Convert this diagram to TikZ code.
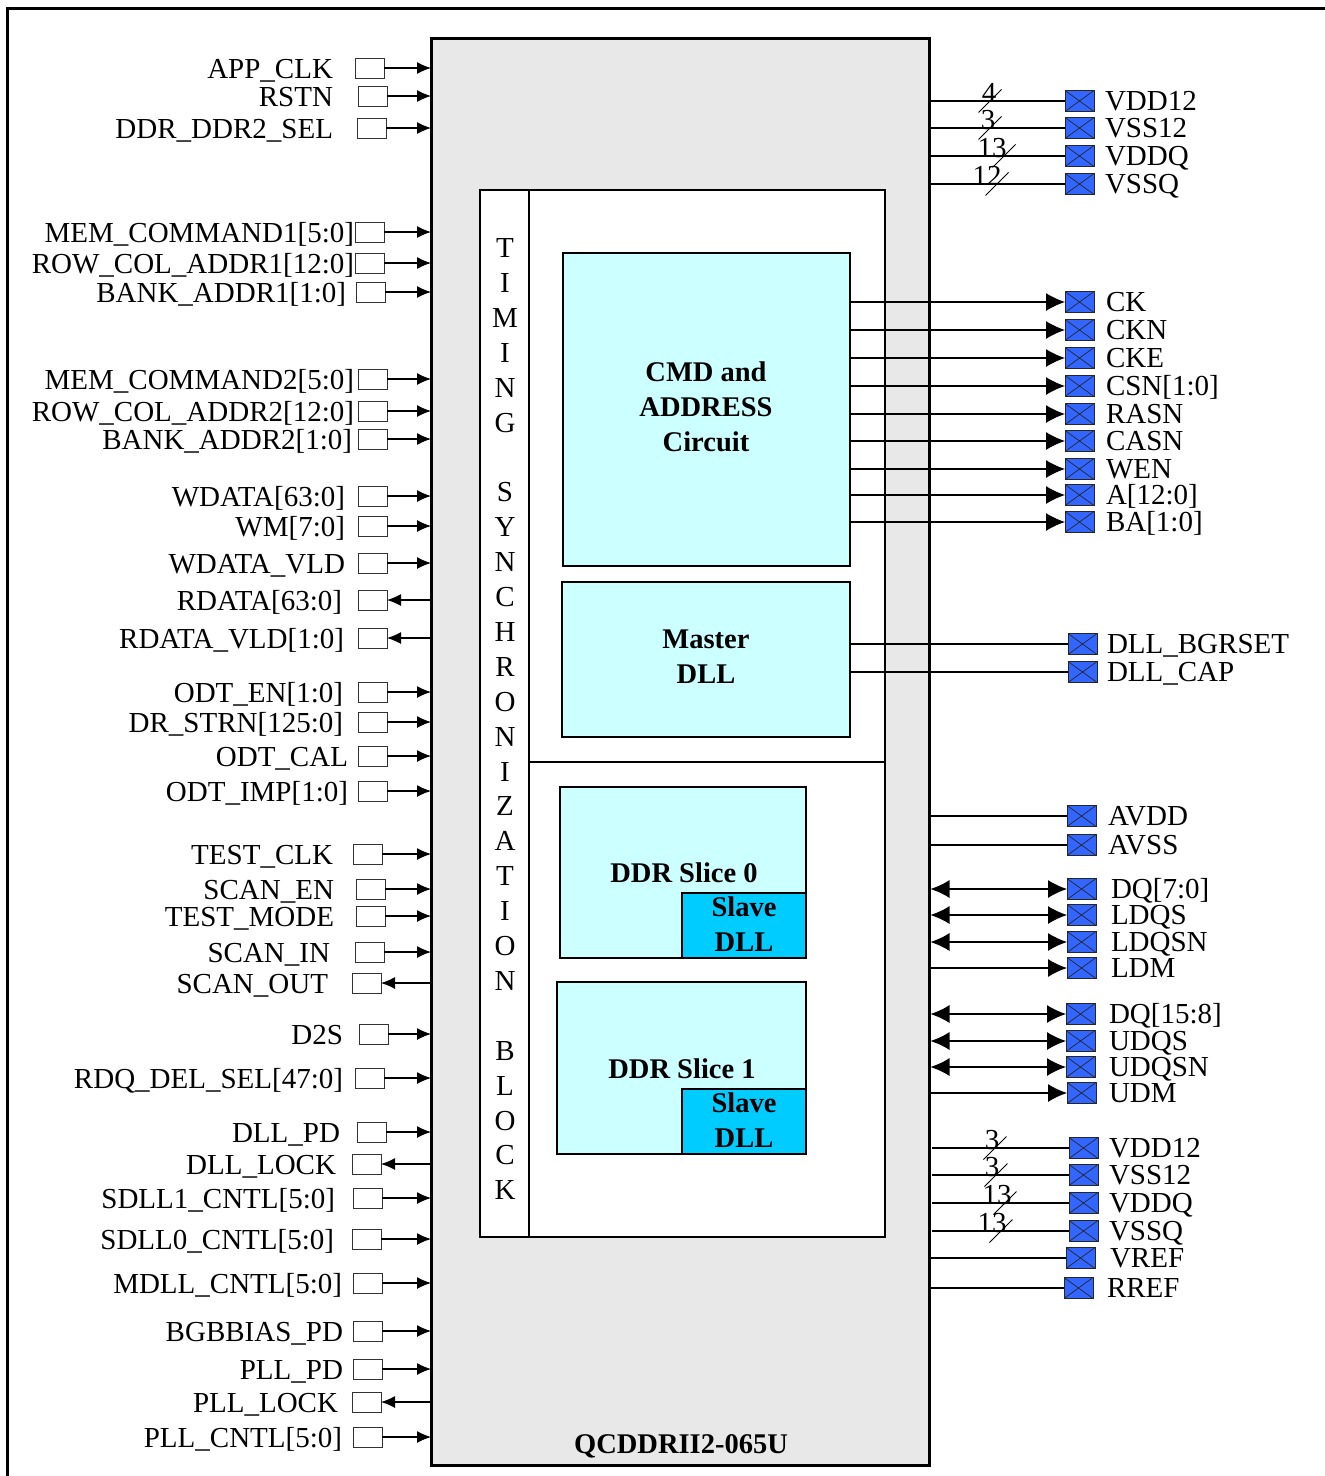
\documentclass[tikz,border=0pt]{standalone}
\usepackage{fontspec}
\setmainfont{Liberation Serif}
\usetikzlibrary{arrows.meta}
\definecolor{chipgray}{HTML}{E8E8E8}
\definecolor{lightcyan}{HTML}{CCFFFF}
\definecolor{slavecyan}{HTML}{00CCFF}
\definecolor{padblue}{HTML}{3366FF}
\begin{document}
\begin{tikzpicture}[x=1pt,y=-1pt,
  every node/.style={inner sep=0pt, outer sep=0pt},
  lbl/.style={font=\fontsize{29}{35}\selectfont},
  btxt/.style={font=\fontsize{28.5}{35}\selectfont\bfseries, align=center},
  blk/.style={draw=black, line width=2.6pt, anchor=north west},
  wire/.style={line width=1.1pt, draw=black},
  slash/.style={line width=0.8pt, draw=black},
  inarrow/.style={wire, -{Latex[length=14pt,width=12pt]}},
  outarrow/.style={wire, {Latex[length=14pt,width=12pt]}-},
  padarrow/.style={wire, -{Latex[length=19pt,width=18pt]}},
  biarrow/.style={wire, {Latex[length=19pt,width=18pt]}-{Latex[length=19pt,width=18pt]}},
  lpad/.style={draw=black!80, line width=0.9pt, fill=white, minimum width=29pt, minimum height=20pt, anchor=west},
  rpad/.style={draw=black!85, line width=0.8pt, fill=padblue, minimum width=29pt, minimum height=21pt, anchor=west,
    path picture={\draw[line width=0.7pt] (path picture bounding box.north west) -- (path picture bounding box.south east)
      (path picture bounding box.south west) -- (path picture bounding box.north east);}}
]
\useasboundingbox (0,0) rectangle (1325,1476);
\clip (0,0) rectangle (1325,1476);
\fill[white] (0,0) rectangle (1325,1476);
% outer frame
\draw[line width=3pt] (7,8) rectangle (1345,1495);

% main chip
\node[blk, fill=chipgray, line width=3pt, minimum width=498pt, minimum height=1427pt] (main) at (431,38) {};
\node[blk, fill=white, minimum width=405pt, minimum height=1047pt] (inner) at (480,190) {};
\node[blk, minimum width=49pt, minimum height=1047pt] (tsb) at (480,190) {};
\coordinate (divl) at (529,762);
\draw[line width=2.6pt] (divl) -- (divl -| inner.east);

\node[blk, fill=lightcyan, minimum width=287pt, minimum height=313pt] (cmd) at (563,253) {};
\node[btxt] (cmdt) at (706,407) {CMD and\\ADDRESS\\Circuit};
\node[blk, fill=lightcyan, minimum width=288pt, minimum height=155pt] (mdll) at (562,582) {};
\node[btxt] (mdllt) at (706,657) {Master\\DLL};
\node[blk, fill=lightcyan, minimum width=246pt, minimum height=171pt] (s0) at (560,787) {};
\node[btxt, anchor=base] (s0t) at (684,882) {DDR Slice 0};
\node[blk, fill=slavecyan, minimum width=124pt, minimum height=65pt] (sd0) at (682,893) {};
\node[btxt] (sd0t) at (744,924) {Slave\\DLL};
\node[blk, fill=lightcyan, minimum width=249pt, minimum height=172pt] (s1) at (557,982) {};
\node[btxt, anchor=base] (s1t) at (682,1078) {DDR Slice 1};
\node[blk, fill=slavecyan, minimum width=124pt, minimum height=65pt] (sd1) at (682,1089) {};
\node[btxt] (sd1t) at (744,1120) {Slave\\DLL};
\node[btxt, anchor=base] (chipname) at (681,1453) {QCDDRII2-065U};

% timing synchronization letters
\foreach \ch/\kk in {T/0,I/1,M/2,I/3,N/4,G/5,S/7,Y/8,N/9,C/10,H/11,R/12,O/13,N/14,I/15,Z/16,A/17,T/18,I/19,O/20,N/21,B/23,L/24,O/25,C/26,K/27}
  \node[lbl, anchor=base] (tl\kk) at (505,257.5+34.9*\kk) {\ch};

% left inputs
\foreach \nm/\yy/\bx/\lx [count=\i] in {
  APP\_CLK/68/355/333, RSTN/96/358/333, DDR\_DDR2\_SEL/128/357/333,
  MEM\_COMMAND1[5:0]/232/355/354, ROW\_COL\_ADDR1[12:0]/263/355/354, BANK\_ADDR1[1:0]/292/356/346,
  MEM\_COMMAND2[5:0]/379/358/354, ROW\_COL\_ADDR2[12:0]/411/358/354, BANK\_ADDR2[1:0]/439/358/352,
  WDATA[63:0]/496/358/345, WM[7:0]/526/358/345, WDATA\_VLD/563/358/345,
  ODT\_EN[1:0]/692/358/343, DR\_STRN[125:0]/722/358/343, ODT\_CAL/756/358/348, ODT\_IMP[1:0]/791/358/348,
  TEST\_CLK/854/353/333, SCAN\_EN/889/356/334, TEST\_MODE/916/356/334, SCAN\_IN/952/355/330,
  D2S/1034/359/343, RDQ\_DEL\_SEL[47:0]/1078/355/343,
  DLL\_PD/1132/357/340, SDLL1\_CNTL[5:0]/1198/353/335, SDLL0\_CNTL[5:0]/1239/352/334,
  MDLL\_CNTL[5:0]/1283/353/342, BGBBIAS\_PD/1331/353/343, PLL\_PD/1369/353/343, PLL\_CNTL[5:0]/1437/353/342}{
  \node[lpad] (li\i) at (\bx,\yy) {};
  \node[lbl, anchor=base east] (lit\i) at (\lx,\yy+10) {\nm};
  \draw[inarrow] (li\i.east) -- (li\i.east -| main.west);
}
% left outputs
\foreach \nm/\yy/\bx/\lx [count=\i] in {
  RDATA[63:0]/600/358/342, RDATA\_VLD[1:0]/638/358/344, SCAN\_OUT/983/352/328,
  DLL\_LOCK/1164/352/336, PLL\_LOCK/1402/352/338}{
  \node[lpad] (lo\i) at (\bx,\yy) {};
  \node[lbl, anchor=base east] (lot\i) at (\lx,\yy+10) {\nm};
  \draw[outarrow] (lo\i.east) -- (lo\i.east -| main.west);
}

% right top power with bus counts
\foreach \nm/\yy/\num/\sx/\nx [count=\i] in {VDD12/101/4/990/989, VSS12/128/3/990/988, VDDQ/156/13/1004/992, VSSQ/184/12/997/987}{
  \node[rpad] (tp\i) at (1065,\yy) {};
  \node[lbl, anchor=base west] (tpt\i) at (1105,\yy+9.5) {\nm};
  \draw[wire] (tp\i.west -| main.east) -- (tp\i.west);
  \draw[slash] (\sx-11.5,\yy+11.5) -- (\sx+11.5,\yy-11.5);
  \node[lbl, anchor=base] (tpn\i) at (\nx,\yy+1) {\num};
}
% CMD outputs
\foreach \nm/\yy [count=\i] in {CK/302, CKN/330, CKE/358, CSN[1:0]/386, RASN/414, CASN/441, WEN/469, A[12:0]/495, BA[1:0]/522}{
  \node[rpad] (cp\i) at (1065,\yy) {};
  \node[lbl, anchor=base west] (cpt\i) at (1106,\yy+9.5) {\nm};
  \draw[padarrow] (cp\i.west -| cmd.east) -- (cp\i.west);
}
% master DLL pins
\foreach \nm/\yy [count=\i] in {DLL\_BGRSET/644, DLL\_CAP/672}{
  \node[rpad] (mp\i) at (1068,\yy) {};
  \node[lbl, anchor=base west] (mpt\i) at (1107,\yy+9.5) {\nm};
  \draw[wire] (mp\i.west -| mdll.east) -- (mp\i.west);
}
% analog supply
\foreach \nm/\yy [count=\i] in {AVDD/816, AVSS/845}{
  \node[rpad] (ap\i) at (1067,\yy) {};
  \node[lbl, anchor=base west] (apt\i) at (1108,\yy+9.5) {\nm};
  \draw[wire] (ap\i.west -| main.east) -- (ap\i.west);
}
% bidirectional DQ
\foreach \nm/\yy/\px/\tx [count=\i] in {DQ[7:0]/889/1067/1111, LDQS/915/1067/1111, LDQSN/942/1067/1111,
  DQ[15:8]/1014/1066/1109, UDQS/1041/1066/1109, UDQSN/1067/1066/1109}{
  \node[rpad] (dp\i) at (\px,\yy) {};
  \node[lbl, anchor=base west] (dpt\i) at (\tx,\yy+9.5) {\nm};
  \draw[biarrow] ([xshift=1.5pt]dp\i.west -| main.east) -- (dp\i.west);
}
% data mask outputs
\foreach \nm/\yy/\tx [count=\i] in {LDM/968/1111, UDM/1093/1109}{
  \node[rpad] (dm\i) at (1067,\yy) {};
  \node[lbl, anchor=base west] (dmt\i) at (\tx,\yy+9.5) {\nm};
  \draw[padarrow] (dm\i.west -| main.east) -- (dm\i.west);
}
% bottom power with bus counts
\foreach \nm/\yy/\num/\sx/\nx [count=\i] in {VDD12/1148/3/995/992, VSS12/1175/3/996/992, VDDQ/1203/13/1005/997, VSSQ/1231/13/1001/992}{
  \node[rpad] (bp\i) at (1069,\yy) {};
  \node[lbl, anchor=base west] (bpt\i) at (1109,\yy+9.5) {\nm};
  \draw[wire] ([xshift=3pt]bp\i.west -| main.east) -- (bp\i.west);
  \draw[slash] (\sx-11.5,\yy+11.5) -- (\sx+11.5,\yy-11.5);
  \node[lbl, anchor=base] (bpn\i) at (\nx,\yy+1) {\num};
}
% reference pins
\foreach \nm/\yy/\px/\tx [count=\i] in {VREF/1258/1066/1110, RREF/1288/1064/1107}{
  \node[rpad] (rp\i) at (\px,\yy) {};
  \node[lbl, anchor=base west] (rpt\i) at (\tx,\yy+9.5) {\nm};
  \draw[wire] (rp\i.west -| main.east) -- (rp\i.west);
}
\end{tikzpicture}
\end{document}
